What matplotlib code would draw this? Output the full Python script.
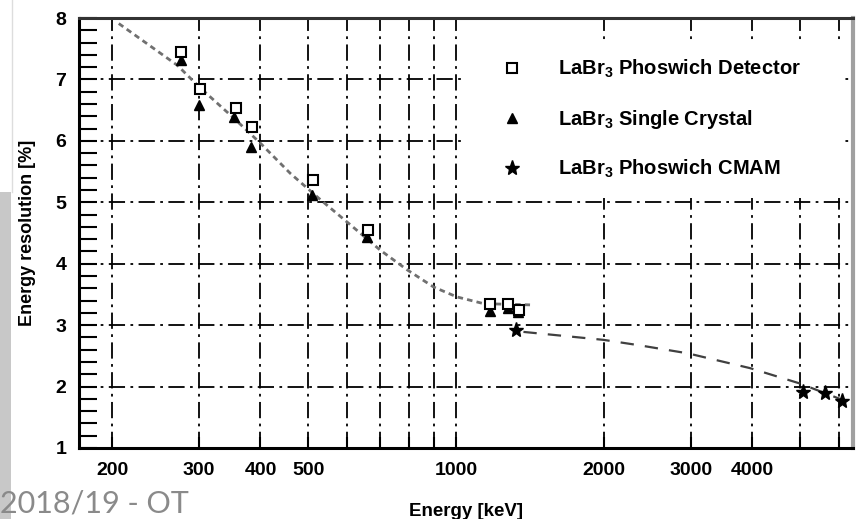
import matplotlib
matplotlib.use("Agg")
import matplotlib.pyplot as plt
from matplotlib.patches import Rectangle
from matplotlib.lines import Line2D
from matplotlib.ticker import FixedLocator, MultipleLocator

plt.rcParams['font.family'] = 'Liberation Sans'
plt.rcParams['font.weight'] = 'bold'
plt.rcParams['mathtext.fontset'] = 'custom'
plt.rcParams['mathtext.rm'] = 'Liberation Sans:bold'
plt.rcParams['mathtext.default'] = 'rm'

# data
phoswich_e = [276, 302, 356, 385, 511, 661, 1172, 1274, 1339]
phoswich_r = [7.45, 6.85, 6.53, 6.22, 5.36, 4.55, 3.34, 3.35, 3.24]

single_e = [276, 300, 353, 382, 509, 659, 1169, 1274, 1335]
single_r = [7.32, 6.59, 6.39, 5.90, 5.12, 4.43, 3.23, 3.28, 3.22]

cmam_e = [1324, 5082, 5612, 6080]
cmam_r = [2.92, 1.91, 1.89, 1.76]

fit1_e = [206, 271, 300, 353, 400, 460, 530, 610, 701, 795, 900, 1003, 1137, 1413]
fit1_r = [7.91, 7.23, 6.88, 6.37, 5.96, 5.47, 5.04, 4.63, 4.22, 3.90, 3.62, 3.46, 3.35, 3.33]

fit2_e = [1370, 1995, 2366, 2962, 3959, 5000, 6300]
fit2_r = [2.89, 2.76, 2.67, 2.54, 2.30, 2.05, 1.74]

x_grid = [200, 300, 400, 500, 600, 700, 800, 900, 1000, 2000, 3000, 4000, 5000, 6000]
x_labels = {200: '200', 300: '300', 400: '400', 500: '500', 1000: '1000',
            2000: '2000', 3000: '3000', 4000: '4000'}

fig = plt.figure(figsize=(8.56, 5.19), dpi=100)

# slide background bits
fig.patches.append(Rectangle((0, 0), 11 / 856, 327 / 519, transform=fig.transFigure,
                             facecolor='#c8c8c8', edgecolor='none'))
fig.lines.append(Line2D([11.5 / 856, 11.5 / 856], [327 / 519, 1], transform=fig.transFigure,
                        color='#dddddd', lw=1))
fig.text(0.0, 0.012, '2018/19 - OT', fontsize=22, color='#8a8a8a',
         family='Lato', weight='normal', ha='left', va='baseline')

ax = fig.add_axes([79 / 856, 71 / 519, 774 / 856, 430 / 519])
ax.set_xscale('log')
ax.set_xlim(171, 6410)
ax.set_ylim(1, 8)
ax.set_axisbelow(True)

ax.xaxis.set_major_locator(FixedLocator(x_grid))
ax.xaxis.set_minor_locator(FixedLocator([]))
ax.set_xticks(x_grid)
ax.set_xticklabels([x_labels.get(v, '') for v in x_grid])
ax.yaxis.set_major_locator(MultipleLocator(1))
ax.yaxis.set_minor_locator(MultipleLocator(0.2))

ax.grid(True, which='major', color='black', lw=1.3, ls=(0, (9, 3, 1.5, 3)))
ax.tick_params(axis='both', which='both', direction='in', width=1.5, labelsize=14)
ax.tick_params(axis='y', which='major', length=13, pad=9)
ax.tick_params(axis='y', which='minor', length=13)
ax.tick_params(axis='x', which='major', length=8, pad=10)

for s in ['left', 'bottom', 'top']:
    ax.spines[s].set_linewidth(2.2)
ax.spines['top'].set_color('#333333')
ax.spines['right'].set_color('#a0a0a0')
ax.spines['right'].set_linewidth(3)

# white legend area that hides the grid
ax.add_patch(Rectangle((0.496, 0.581), 0.49, 0.368, transform=ax.transAxes,
                       facecolor='white', edgecolor='none', zorder=1))

ax.plot(fit1_e, fit1_r, color='#707070', lw=2, ls=(0, (2, 1.5)), zorder=2)
ax.plot(fit2_e, fit2_r, color='#404040', lw=1.6, ls=(0, (6, 5)), zorder=2)

ax.plot(phoswich_e, phoswich_r, 's', ms=7.5, mfc='white', mec='black', mew=1.5, zorder=4,
        label='LaBr$_3$ Phoswich Detector')
ax.plot(single_e, single_r, '^', ms=7, color='black', zorder=3,
        label='LaBr$_3$ Single Crystal')
ax.plot(cmam_e, cmam_r, '*', ms=11, color='black', zorder=3,
        label='LaBr$_3$ Phoswich CMAM')

ax.legend(loc='upper left', bbox_to_anchor=(0.536, 0.926), frameon=False, fontsize=14.5,
          handlelength=1.0, handletextpad=1.8, labelspacing=1.36, borderaxespad=0)

ax.set_ylabel('Energy resolution [%]', fontsize=13, weight='bold', labelpad=14)
fig.text(466 / 856, 1 - 512 / 519, 'Energy [keV]', fontsize=13.5, weight='bold',
         ha='center', va='center')

fig.savefig('out.png', dpi=100)
